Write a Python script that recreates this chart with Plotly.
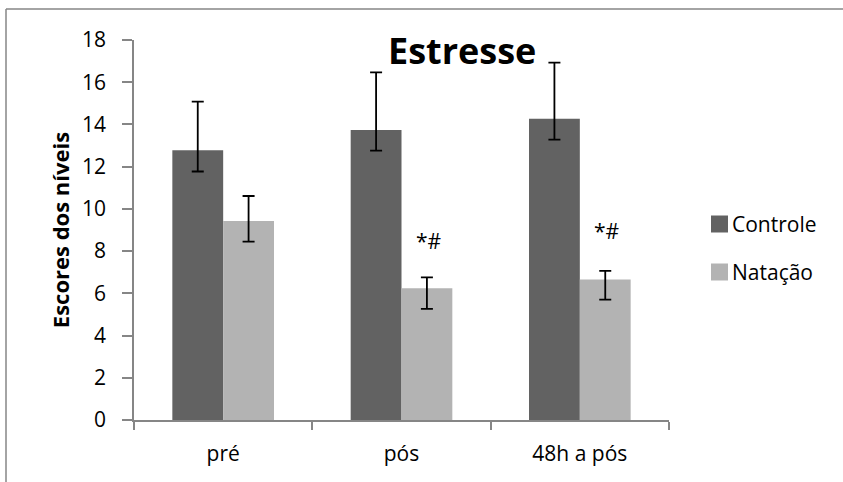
import plotly.graph_objects as go

categories = ["pré", "pós", "48h a pós"]
controle = [12.78, 13.74, 14.27]
controle_err_plus = [2.30, 2.73, 2.66]
controle_err_minus = [1.01, 0.98, 0.99]
natacao = [9.43, 6.24, 6.66]
natacao_err_plus = [1.18, 0.52, 0.40]
natacao_err_minus = [0.98, 0.98, 0.96]
sig_labels = ["", "*#", "*#"]
sig_y = [0, 8.5, 8.95]
y_ticks = [0, 2, 4, 6, 8, 10, 12, 14, 16, 18]

FONT = "'Open Sans', Lato, sans-serif"
DARK = "#626262"
LIGHT = "#b3b3b3"
AXIS = "#868686"

fig = go.Figure()
fig.add_trace(go.Bar(
    x=categories, y=controle, name="Controle", marker=dict(color=DARK, line=dict(width=0)),
    error_y=dict(type="data", symmetric=False, array=controle_err_plus,
                 arrayminus=controle_err_minus, color="black", thickness=1.8, width=6),
))
fig.add_trace(go.Bar(
    x=categories, y=natacao, name="Natação", marker=dict(color=LIGHT, line=dict(width=0)),
    error_y=dict(type="data", symmetric=False, array=natacao_err_plus,
                 arrayminus=natacao_err_minus, color="black", thickness=1.8, width=6),
))

for c, lab, yy in zip(categories, sig_labels, sig_y):
    if lab:
        fig.add_annotation(x=c, y=yy, text=lab, showarrow=False, xshift=27,
                           yanchor="middle", font=dict(family=FONT, size=21, color="black"))

# Title
fig.add_annotation(xref="paper", yref="paper", x=(462 - 134) / 535, y=(420 - 51) / 380,
                   text="<b>Estresse</b>", showarrow=False, xanchor="center", yanchor="middle",
                   font=dict(family=FONT, size=36, color="black"))

# Manual legend
leg_items = [("Controle", DARK, 224), ("Natação", LIGHT, 272)]
for name, col, py in leg_items:
    fig.add_shape(type="rect", xref="paper", yref="paper",
                  x0=(711 - 134) / 535, x1=(728 - 134) / 535,
                  y0=(420 - (py - 8.5)) / 380, y1=(420 - (py + 8.5)) / 380,
                  fillcolor=col, line=dict(width=0))
    fig.add_annotation(xref="paper", yref="paper", x=(730 - 134) / 535, y=(420 - py) / 380,
                       text=name, showarrow=False, xanchor="left", yanchor="middle",
                       font=dict(family=FONT, size=21, color="black"))

# Chart border (top and left visible)
bx = (6 - 134) / 535
by = (420 - 9) / 380
fig.add_shape(type="line", xref="paper", yref="paper", x0=bx, x1=(843 - 134) / 535 + 0.01,
              y0=by, y1=by, line=dict(color=AXIS, width=1.5))
fig.add_shape(type="line", xref="paper", yref="paper", x0=bx, x1=bx,
              y0=by, y1=(420 - 490) / 380, line=dict(color=AXIS, width=1.5))

fig.update_layout(
    width=843, height=482,
    margin=dict(l=134, r=174, t=40, b=62),
    paper_bgcolor="white", plot_bgcolor="white",
    barmode="group", bargap=0.43, bargroupgap=0,
    showlegend=False,
    font=dict(family=FONT, size=21, color="black"),
    xaxis=dict(type="category", showline=True, linecolor=AXIS, linewidth=1.5,
               ticks="outside", tickson="boundaries", ticklen=8, tickcolor=AXIS, tickwidth=1.5,
               showgrid=False, tickfont=dict(family=FONT, size=21), ticklabelstandoff=14),
    yaxis=dict(range=[0, 18], tickvals=y_ticks, showline=True, linecolor=AXIS, linewidth=1.5,
               ticks="outside", ticklen=10, tickcolor=AXIS, tickwidth=1.5, showgrid=False,
               zeroline=False, tickfont=dict(family=FONT, size=21), ticklabelstandoff=12,
               title=dict(text="<b>Escores dos níveis</b>", font=dict(family=FONT, size=22), standoff=6)),
)

fig.write_html("out.html", config={"displayModeBar": False},
               post_script="document.body.style.margin='0px';")
